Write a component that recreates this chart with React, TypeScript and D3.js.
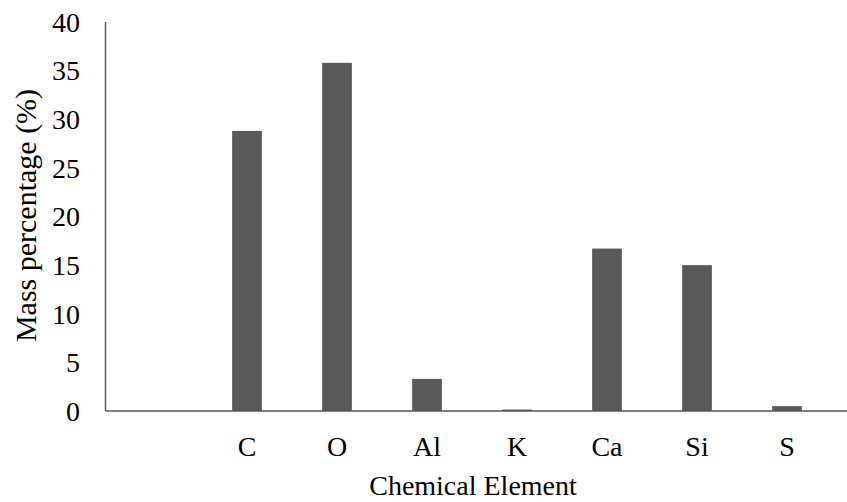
import React from "react";
import * as d3 from "d3";

const categories = ["", "C", "O", "Al", "K", "Ca", "Si", "S"];
const values = [0, 28.8, 35.8, 3.3, 0.15, 16.7, 15.0, 0.5];
const yTicks = [0, 5, 10, 15, 20, 25, 30, 35, 40];
const xTitle = "Chemical Element";
const yTitle = "Mass percentage (%)";

const W = 847;
const H = 502;
const axisX = 105.5;
const x = d3.scaleBand<string>().domain(categories.map((c, i) => i + "|" + c)).range([112, 832]).paddingInner(0.67).paddingOuter(0.335);
const y = d3.scaleLinear().domain([0, 40]).range([411, 22]);
const font = "'Liberation Serif', 'Times New Roman', serif";

export default function App() {
  const keys = categories.map((c, i) => i + "|" + c);
  return (
    <svg width={W} height={H} style={{ position: "absolute", left: 0, top: 0, background: "#fff" }} fontFamily={font}>
      {keys.map((k, i) =>
        values[i] > 0 ? (
          <rect key={k} x={x(k)} y={y(values[i])} width={x.bandwidth()} height={y(0) - y(values[i])} fill="#595959" />
        ) : null
      )}
      <line x1={axisX} x2={axisX} y1={y(40)} y2={y(0)} stroke="#595959" strokeWidth={1.5} />
      <line x1={axisX} x2={W} y1={y(0)} y2={y(0)} stroke="#595959" strokeWidth={1.5} />
      {yTicks.map((t) => (
        <text key={t} x={80} y={y(t)} dy="0.35em" textAnchor="end" fontSize={28} fill="#000">
          {t}
        </text>
      ))}
      {keys.map((k, i) => (
        <text key={k} x={(x(k) as number) + x.bandwidth() / 2} y={456} textAnchor="middle" fontSize={28} fill="#000">
          {categories[i]}
        </text>
      ))}
      <text x={473} y={495} textAnchor="middle" fontSize={28} fill="#000">
        {xTitle}
      </text>
      <text transform={`translate(36,${215.5}) rotate(-90)`} textAnchor="middle" fontSize={30} fill="#000">
        {yTitle}
      </text>
    </svg>
  );
}
